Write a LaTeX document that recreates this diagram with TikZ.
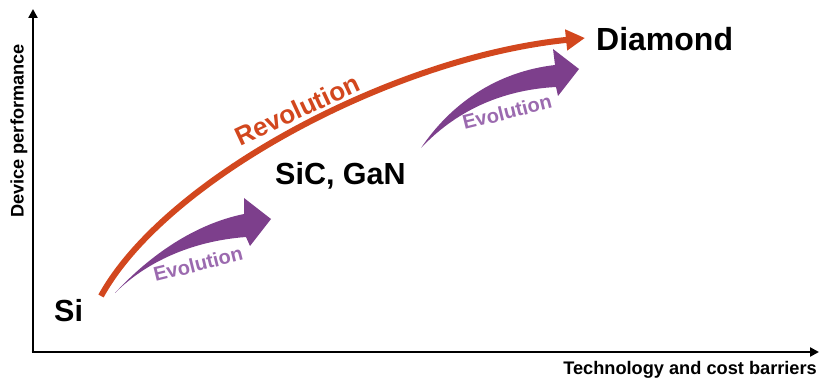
\documentclass[tikz,border=0pt]{standalone}
\usepackage{fontspec}
\setmainfont{Liberation Sans}
\usetikzlibrary{arrows.meta}
\definecolor{revred}{HTML}{D2471E}
\definecolor{evopurple}{HTML}{7D3F8C}
\definecolor{evotext}{HTML}{9B6AAF}
\tikzset{
  axis/.style={line width=2.6pt, -{Triangle[length=9pt,width=9pt]}},
  material/.style={font=\bfseries\fontsize{30.5}{34}\selectfont, text=black, inner sep=0pt},
  axislabel/.style={font=\bfseries\fontsize{18.2}{21}\selectfont, text=black, inner sep=0pt},
  revlabel/.style={font=\bfseries\fontsize{26}{29}\selectfont, text=revred, inner sep=0pt},
  evolabel/.style={font=\bfseries\fontsize{20}{23}\selectfont, text=evotext, inner sep=0pt},
  evoarrow/.style={fill=evopurple, draw=none},
}
\begin{document}
\begin{tikzpicture}[x=1pt,y=-1pt]
\useasboundingbox (0,0) rectangle (820,379);
% axes
\coordinate (origin) at (33,352);
\coordinate (ytop) at (33,9);
\coordinate (xend) at (819,352);
\draw[axis] (origin) -- (ytop);
\draw[axis] ([xshift=-1.3pt]origin) -- (xend);
\node[axislabel, rotate=90] (ylab) at (19,131) {Device performance};
\node[axislabel, anchor=base east] (xlab) at (817,375) {Technology and cost barriers};
% materials
\node[material, anchor=base west] (si) at (54,322) {Si};
\node[material, anchor=base west] (sic) at (275,185) {SiC, GaN};
\node[material, font=\bfseries\fontsize{32}{36}\selectfont, anchor=base west] (dia) at (596,51) {Diamond};
% revolution arrow
\coordinate (rstart) at (101,296);
\coordinate (rend) at (585,38);
\draw[revred, line width=6pt, -{Triangle[length=19pt,width=20pt]}]
  (rstart) .. controls (165,180) and (390,58) .. (rend);
\node[revlabel, rotate=25] (rev) at (297,110) {Revolution};
% evolution arrows
\fill[evoarrow] (115,293) .. controls (150,255) and (195,224) .. (244,214)
  -- (244,198) -- (271,219) -- (250,246) -- (246,237)
  .. controls (192,241) and (146,262) .. cycle;
\node[evolabel, rotate=14] (evo1) at (198,264) {Evolution};
\fill[evoarrow] (421,148) .. controls (450,105) and (495,72) .. (555,65)
  -- (553,49) -- (579,69) -- (558,96) -- (556,87)
  .. controls (500,90) and (455,112) .. cycle;
\node[evolabel, rotate=14] (evo2) at (507,112) {Evolution};
\end{tikzpicture}
\end{document}
